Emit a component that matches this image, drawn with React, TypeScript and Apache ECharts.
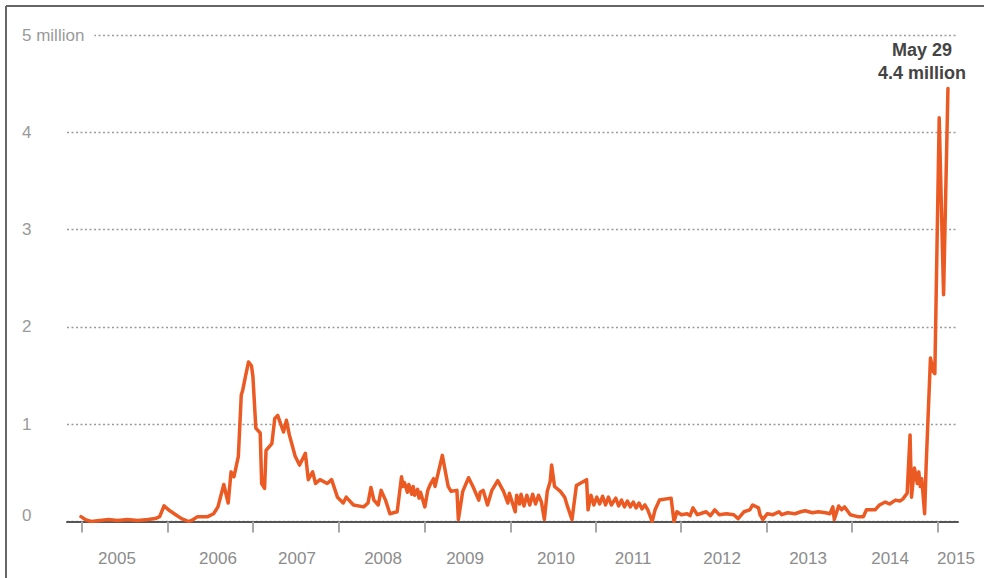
import React, { useEffect, useRef } from "react";
import * as echarts from "echarts";

// Weekly Google searches (millions); x = weeks since early Jan 2004
const weeks = [
  0, 3, 7, 13, 19, 25, 32, 39, 46, 51, 54, 57, 61, 65, 69, 74, 77, 80, 87, 91,
  94, 98, 101, 103, 105, 108, 110, 111, 113, 115, 117, 118, 120, 123, 124, 126, 127, 131, 133, 135,
  139, 141, 143, 147, 150, 154, 156, 159, 161, 164, 169, 172, 176, 180, 182, 187, 194, 197, 199, 201,
  204, 206, 209, 212, 217, 220, 221, 222, 224, 225, 227, 228, 229, 231, 232, 233, 235, 236, 238, 240,
  242, 243, 248, 252, 254, 258, 259, 262, 266, 269, 273, 274, 276, 279, 282, 286, 290, 293, 294, 298,
  299, 301, 302, 304, 306, 308, 310, 312, 314, 316, 318, 320, 322, 323, 325, 329, 332, 334, 337, 340,
  347, 348, 350, 352, 354, 356, 358, 360, 362, 364, 367, 369, 371, 373, 375, 377, 379, 381, 383, 385,
  387, 389, 392, 394, 397, 405, 407, 409, 412, 416, 418, 420, 423, 425, 429, 432, 435, 438, 443, 448,
  451, 455, 459, 461, 465, 466, 468, 471, 475, 479, 481, 485, 490, 494, 497, 502, 506, 511, 514, 516,
  517, 520, 522, 524, 528, 533, 537, 539, 545, 548, 552, 555, 559, 562, 564, 567, 569, 570, 572, 574,
  575, 576, 577, 579, 580, 583, 585, 586, 589, 592, 595,
];

const searches = [
  0.05, 0.02, 0.0, 0.01, 0.02, 0.01, 0.02, 0.01, 0.02, 0.03, 0.05, 0.16, 0.11, 0.07, 0.03, 0.0, 0.02, 0.05, 0.05, 0.08,
  0.15, 0.38, 0.19, 0.51, 0.46, 0.67, 1.3, 1.35, 1.5, 1.64, 1.6, 1.49, 0.96, 0.91, 0.39, 0.34, 0.73, 0.8, 1.06, 1.09,
  0.92, 1.04, 0.89, 0.67, 0.58, 0.7, 0.43, 0.51, 0.39, 0.43, 0.39, 0.43, 0.25, 0.19, 0.25, 0.17, 0.15, 0.19, 0.35, 0.22,
  0.17, 0.32, 0.22, 0.08, 0.1, 0.46, 0.36, 0.4, 0.3, 0.38, 0.28, 0.36, 0.27, 0.33, 0.24, 0.3, 0.2, 0.15, 0.32, 0.39,
  0.44, 0.36, 0.68, 0.36, 0.31, 0.32, 0.02, 0.31, 0.45, 0.36, 0.22, 0.3, 0.32, 0.17, 0.32, 0.42, 0.31, 0.19, 0.29, 0.1,
  0.27, 0.18, 0.28, 0.16, 0.27, 0.17, 0.28, 0.18, 0.27, 0.2, 0.02, 0.31, 0.41, 0.58, 0.36, 0.31, 0.25, 0.15, 0.02, 0.37,
  0.43, 0.12, 0.27, 0.17, 0.25, 0.18, 0.26, 0.17, 0.25, 0.17, 0.24, 0.16, 0.22, 0.15, 0.21, 0.15, 0.2, 0.14, 0.19, 0.13,
  0.17, 0.12, 0.0, 0.12, 0.22, 0.24, 0.0, 0.1, 0.07, 0.08, 0.06, 0.14, 0.07, 0.08, 0.1, 0.06, 0.12, 0.07, 0.08, 0.07,
  0.03, 0.1, 0.12, 0.17, 0.14, 0.07, 0.02, 0.08, 0.07, 0.1, 0.07, 0.09, 0.08, 0.1, 0.11, 0.09, 0.1, 0.09, 0.08, 0.15,
  0.02, 0.16, 0.12, 0.15, 0.07, 0.05, 0.05, 0.12, 0.12, 0.17, 0.2, 0.18, 0.22, 0.21, 0.23, 0.29, 0.89, 0.25, 0.55, 0.39,
  0.51, 0.36, 0.44, 0.08, 0.56, 1.68, 1.54, 1.52, 4.15, 2.33, 4.45,
];

// Axis tick marks and year labels (positions in weeks)
const tickWeeks = [0.7, 59.7, 118.0, 177.1, 236.1, 295.1, 353.5, 411.8, 470.8, 529.2, 588.2];
const yearLabelWeeks = [24.7, 94.0, 148.2, 207.3, 263.6, 326.0, 378.9, 440.0, 499.0, 555.3, 600.5];
const yearLabels = ["2005", "2006", "2007", "2008", "2009", "2010", "2011", "2012", "2013", "2014", "2015"];

const yTicks = [0, 1, 2, 3, 4, 5];
const yTickLabels = ["0", "1", "2", "3", "4", "5 million"];

const annotationLines = ["May 29", "4.4 million"];
const peakWeek = 595;
const peakValue = 4.45;

const X_MIN = -9.6;
const X_MAX = 601.9;

const FONT = "'Liberation Sans', Arial, Helvetica, sans-serif";

export default function App() {
  const ref = useRef<HTMLDivElement | null>(null);

  useEffect(() => {
    if (!ref.current) return;
    const chart = echarts.init(ref.current, null, { renderer: "svg" });

    const lineData = weeks.map((w, i) => [w, searches[i]]);

    const option: any = {
      animation: false,
      backgroundColor: "#ffffff",
      textStyle: { fontFamily: FONT },
      grid: { left: 67, right: 26, top: 35, bottom: 56.5, containLabel: false },
      xAxis: [
        {
          type: "value",
          min: X_MIN,
          max: X_MAX,
          position: "bottom",
          axisLine: { show: true, onZero: false, lineStyle: { color: "#555555", width: 2 } },
          axisTick: { show: false },
          axisLabel: { show: false },
          splitLine: { show: false },
        },
        {
          type: "value",
          gridIndex: 0,
          min: X_MIN,
          max: X_MAX,
          position: "bottom",
          offset: 9,
          axisLine: { show: false },
          axisTick: {
            show: true,
            length: 11,
            customValues: tickWeeks,
            lineStyle: { color: "#a8a8a8", width: 2 },
          },
          axisLabel: {
            show: true,
            customValues: yearLabelWeeks,
            margin: 19,
            color: "#8c8c8c",
            fontSize: 17,
            fontFamily: FONT,
            formatter: (v: number) => {
              let best = 0;
              let bd = Infinity;
              yearLabelWeeks.forEach((w, i) => {
                const d = Math.abs(w - v);
                if (d < bd) {
                  bd = d;
                  best = i;
                }
              });
              return yearLabels[best];
            },
          },
          splitLine: { show: false },
        },
      ],
      yAxis: {
        type: "value",
        min: 0,
        max: 5,
        interval: 1,
        axisLine: { show: false },
        axisTick: { show: false },
        splitLine: {
          show: true,
          lineStyle: { type: [2, 2.5], color: "#9a9a9a", width: 1.3 },
        },
        axisLabel: {
          align: "left",
          margin: 45,
          color: "#9a9a9a",
          fontSize: 17,
          fontFamily: FONT,
          formatter: (v: number) => {
            const i = yTicks.indexOf(Math.round(v));
            const t = i >= 0 ? yTickLabels[i] : String(v);
            return v === 0 ? "{z|" + t + "}" : "{n|" + t + "}";
          },
          rich: {
            z: {
              color: "#9a9a9a",
              fontSize: 17,
              fontFamily: FONT,
              padding: [0, 0, 12, 0],
            },
            n: {
              color: "#9a9a9a",
              fontSize: 17,
              fontFamily: FONT,
              backgroundColor: "#ffffff",
              padding: [2, 10, 2, 0],
            },
          },
        },
      },
      series: [
        {
          type: "line",
          xAxisIndex: 0,
          yAxisIndex: 0,
          data: lineData,
          showSymbol: false,
          symbol: "none",
          z: 5,
          lineStyle: { color: "#ec5a24", width: 3.5, join: "round", cap: "round" },
          markPoint: {
            symbol: "circle",
            symbolSize: 0,
            itemStyle: { color: "rgba(0,0,0,0)" },
            data: [{ coord: [peakWeek, peakValue] }],
            label: {
              show: true,
              position: "top",
              distance: 4,
              offset: [-26, 0],
              formatter: annotationLines.join("\n"),
              color: "#444444",
              fontSize: 18,
              fontWeight: "bold",
              lineHeight: 23,
              align: "center",
              fontFamily: FONT,
            },
          },
        },
      ],
      graphic: [
        {
          type: "line",
          shape: { x1: 6, y1: 6, x2: 984, y2: 6 },
          style: { stroke: "#666666", lineWidth: 2 },
          silent: true,
        },
        {
          type: "line",
          shape: { x1: 6, y1: 6, x2: 6, y2: 578 },
          style: { stroke: "#666666", lineWidth: 2 },
          silent: true,
        },
      ],
    };

    chart.setOption(option);
    return () => {
      chart.dispose();
    };
  }, []);

  return (
    <div
      ref={ref}
      style={{
        position: "absolute",
        left: 0,
        top: 0,
        width: 984,
        height: 578,
        background: "#ffffff",
      }}
    />
  );
}
